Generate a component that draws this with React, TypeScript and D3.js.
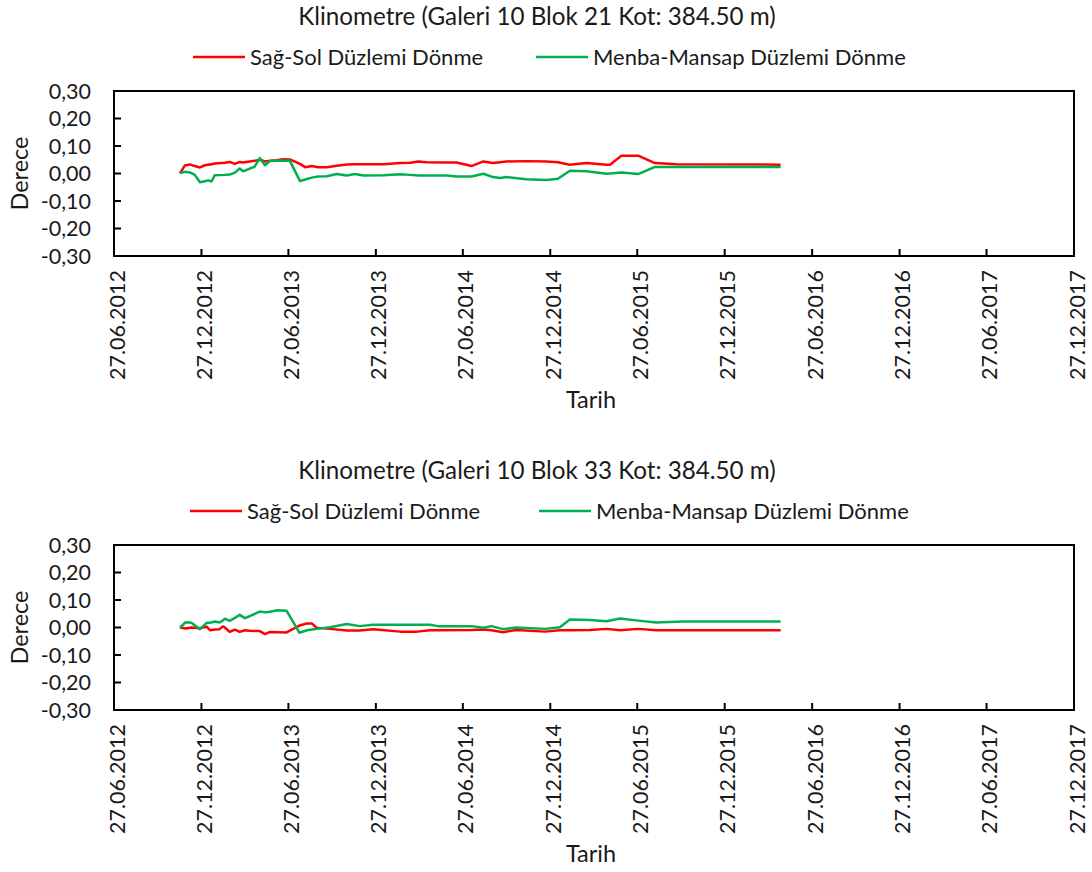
import React from "react";
import * as d3 from "d3";

// ---------- data ----------
const xTickLabels = [
  "27.06.2012", "27.12.2012", "27.06.2013", "27.12.2013", "27.06.2014", "27.12.2014",
  "27.06.2015", "27.12.2015", "27.06.2016", "27.12.2016", "27.06.2017", "27.12.2017",
];
const yTicks = [-0.3, -0.2, -0.1, 0, 0.1, 0.2, 0.3];
const seriesNames = ["Sağ-Sol Düzlemi Dönme", "Menba-Mansap Düzlemi Dönme"];
const chartTitles = [
  "Klinometre (Galeri 10 Blok 21 Kot: 384.50 m)",
  "Klinometre (Galeri 10 Blok 33 Kot: 384.50 m)",
];

const dates21 = [
  "2012-11-12", "2012-11-22", "2012-12-03", "2012-12-13", "2012-12-24", "2013-01-03", "2013-01-10", "2013-01-17", "2013-01-24", "2013-02-14",
  "2013-02-24", "2013-03-07", "2013-03-17", "2013-03-24", "2013-04-07", "2013-04-17", "2013-04-28", "2013-05-09", "2013-05-19", "2013-06-02",
  "2013-06-16", "2013-06-30", "2013-07-21", "2013-08-01", "2013-08-15", "2013-08-28", "2013-09-15", "2013-10-06", "2013-10-27", "2013-11-13",
  "2013-12-01", "2014-01-12", "2014-02-16", "2014-03-09", "2014-03-26", "2014-04-12", "2014-05-24", "2014-06-14", "2014-07-15", "2014-08-09",
  "2014-08-29", "2014-09-13", "2014-09-26", "2014-11-07", "2014-12-19", "2015-01-12", "2015-02-06", "2015-03-13", "2015-04-24", "2015-05-01",
  "2015-05-25", "2015-06-29", "2015-08-03", "2015-09-17", "2016-04-22",
];
const sagSol21 = [
  0.000, 0.029, 0.033, 0.027, 0.022, 0.030, 0.032, 0.034, 0.036, 0.039,
  0.042, 0.035, 0.042, 0.040, 0.044, 0.046, 0.050, 0.044, 0.046, 0.048,
  0.052, 0.051, 0.035, 0.023, 0.027, 0.023, 0.023, 0.028, 0.033, 0.034,
  0.034, 0.034, 0.038, 0.039, 0.044, 0.041, 0.040, 0.040, 0.027, 0.044,
  0.038, 0.041, 0.044, 0.045, 0.044, 0.041, 0.032, 0.038, 0.032, 0.032,
  0.065, 0.065, 0.038, 0.034, 0.032,
];
const menba21 = [
  0.002, 0.006, 0.004, -0.005, -0.032, -0.028, -0.025, -0.029, -0.006, -0.005,
  -0.004, 0.003, 0.018, 0.008, 0.018, 0.024, 0.056, 0.030, 0.045, 0.046,
  0.046, 0.046, -0.027, -0.022, -0.015, -0.011, -0.010, -0.002, -0.007, -0.002,
  -0.007, -0.006, -0.003, -0.005, -0.007, -0.007, -0.007, -0.011, -0.011, -0.001,
  -0.013, -0.016, -0.013, -0.021, -0.024, -0.019, 0.010, 0.008, -0.001, 0.000,
  0.004, -0.002, 0.024, 0.024, 0.024,
];

const dates33 = [
  "2012-11-12", "2012-11-24", "2012-12-06", "2012-12-24", "2013-01-07", "2013-01-14", "2013-01-24", "2013-02-03", "2013-02-10", "2013-02-14",
  "2013-02-24", "2013-03-07", "2013-03-17", "2013-03-28", "2013-04-07", "2013-04-28", "2013-05-09", "2013-05-19", "2013-06-05", "2013-06-23",
  "2013-07-20", "2013-08-05", "2013-08-15", "2013-08-25", "2013-09-22", "2013-10-27", "2013-11-23", "2013-12-21", "2014-02-16", "2014-03-23",
  "2014-04-19", "2014-05-06", "2014-07-15", "2014-08-09", "2014-08-26", "2014-09-19", "2014-10-17", "2014-12-16", "2015-01-16", "2015-02-06",
  "2015-03-20", "2015-04-24", "2015-05-22", "2015-06-29", "2015-08-06", "2015-09-30", "2016-04-22",
];
const sagSol33 = [
  0.000, -0.004, 0.000, -0.003, 0.003, -0.010, -0.007, -0.006, 0.004, 0.000,
  -0.016, -0.008, -0.016, -0.010, -0.012, -0.013, -0.024, -0.016, -0.017, -0.018,
  0.007, 0.015, 0.015, -0.001, -0.005, -0.011, -0.011, -0.006, -0.015, -0.015,
  -0.010, -0.010, -0.009, -0.007, -0.010, -0.017, -0.009, -0.015, -0.010, -0.010,
  -0.009, -0.005, -0.010, -0.005, -0.010, -0.010, -0.010,
];
const menba33 = [
  0.000, 0.019, 0.017, -0.006, 0.017, 0.017, 0.022, 0.018, 0.026, 0.032,
  0.024, 0.035, 0.046, 0.034, 0.041, 0.058, 0.055, 0.057, 0.063, 0.061,
  -0.019, -0.010, -0.007, -0.005, 0.001, 0.013, 0.005, 0.010, 0.010, 0.010,
  0.010, 0.005, 0.005, -0.001, 0.005, -0.006, 0.000, -0.005, 0.001, 0.029,
  0.027, 0.023, 0.033, 0.025, 0.018, 0.022, 0.022,
];

// ---------- styling ----------
const RED = "#FF0000";
const GREEN = "#00B050";
const TEXT = "#1a1a1a";
const FONT = "Lato, 'Open Sans', sans-serif";

const parseTick = d3.timeParse("%d.%m.%Y");
const parseDate = d3.timeParse("%Y-%m-%d");
const locale = d3.formatLocale({ decimal: ",", thousands: ".", grouping: [3], currency: ["", ""], minus: "-" });
const fmtY = locale.format(".2f");

const PL = 114, PR = 1074, PT = 91, PB = 256;

const x = d3.scaleTime()
  .domain([parseTick(xTickLabels[0]) as Date, parseTick(xTickLabels[xTickLabels.length - 1]) as Date])
  .range([PL, PR]);
const y = d3.scaleLinear().domain([-0.3, 0.3]).range([PB, PT]);

type ChartProps = {
  title: string;
  dates: string[];
  red: number[];
  green: number[];
  dy: number;
  legendShift: [number, number];
};

function Chart({ title, dates, red, green, dy, legendShift }: ChartProps) {
  const pts = dates.map((d) => parseDate(d) as Date);
  const line = d3.line<number>()
    .x((_, i) => x(pts[i]))
    .y((v) => y(v));
  return (
    <g transform={`translate(0,${dy})`} fontFamily={FONT} fill={TEXT}>
      <text x={537} y={25} textAnchor="middle" fontSize={24.2}>{title}</text>
      {/* legend */}
      <line x1={193 + legendShift[0]} x2={245 + legendShift[0]} y1={57} y2={57} stroke={RED} strokeWidth={2.5} />
      <text x={250 + legendShift[0]} y={65} fontSize={22}>{seriesNames[0]}</text>
      <line x1={536 + legendShift[1]} x2={588 + legendShift[1]} y1={57} y2={57} stroke={GREEN} strokeWidth={2.5} />
      <text x={593 + legendShift[1]} y={65} fontSize={22}>{seriesNames[1]}</text>

      {/* plot border */}
      <rect x={PL} y={PT} width={PR - PL} height={PB - PT} fill="none" stroke="#000" strokeWidth={2} />
      {/* y ticks */}
      {yTicks.map((t) => (
        <g key={t}>
          <line x1={PL} x2={PL + 7} y1={y(t)} y2={y(t)} stroke="#000" strokeWidth={2} />
          <text x={91} y={y(t) + 7.5} textAnchor="end" fontSize={21.5}>{fmtY(t)}</text>
        </g>
      ))}
      {/* x ticks */}
      {xTickLabels.map((lab) => {
        const tx = x(parseTick(lab) as Date);
        return (
          <g key={lab}>
            <line x1={tx} x2={tx} y1={PB} y2={PB - 7} stroke="#000" strokeWidth={2} />
            <text transform={`translate(${tx + 10.5},270) rotate(-90)`} textAnchor="end" fontSize={21.5}>{lab}</text>
          </g>
        );
      })}
      <text transform={`translate(28,${(PT + PB) / 2}) rotate(-90)`} textAnchor="middle" fontSize={23.5}>Derece</text>
      <text x={591} y={408} textAnchor="middle" fontSize={23.5}>Tarih</text>

      {/* series */}
      <path d={line(red) || ""} fill="none" stroke={RED} strokeWidth={2.5} strokeLinejoin="round" />
      <path d={line(green) || ""} fill="none" stroke={GREEN} strokeWidth={2.5} strokeLinejoin="round" />
    </g>
  );
}

export default function App() {
  return (
    <div style={{ position: "fixed", left: 0, top: 0 }}>
      <svg width={1092} height={872} style={{ display: "block", background: "#fff" }}>
        <Chart title={chartTitles[0]} dates={dates21} red={sagSol21} green={menba21} dy={0} legendShift={[0, 0]} />
        <Chart title={chartTitles[1]} dates={dates33} red={sagSol33} green={menba33} dy={454} legendShift={[-3, 3]} />
      </svg>
    </div>
  );
}
